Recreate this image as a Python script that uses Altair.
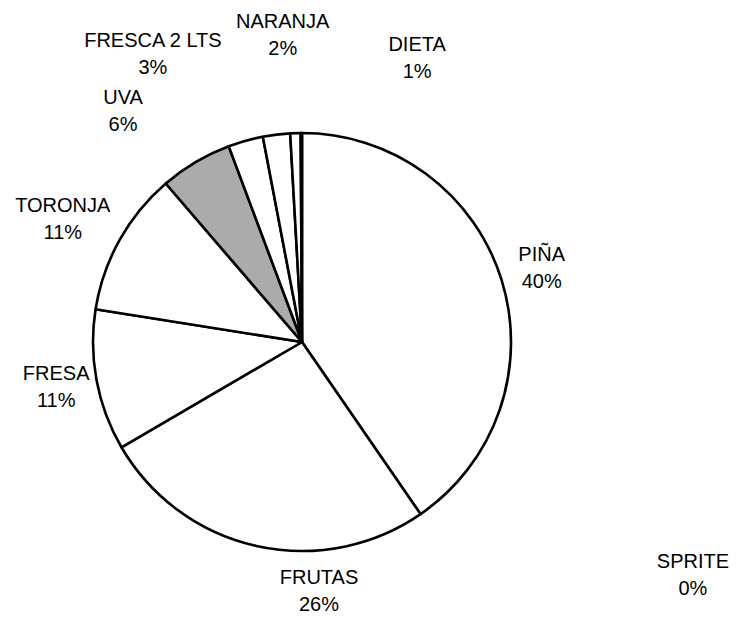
import altair as alt
import pandas as pd

# --- data ---
SLICES = ["PIÑA", "FRUTAS", "FRESA", "TORONJA", "UVA",
          "FRESCA 2 LTS", "NARANJA", "DIETA", "SPRITE"]
SHARES = [40.4, 26.2, 10.9, 11.2, 5.6, 2.7, 2.1, 0.8, 0.1]

# --- label layout (angle in degrees clockwise from north, radius as multiple of pie radius) ---
LABEL_ANGLE = [72.9, 176.1, 259.6, 297.2, 322.2, 332.6, 356.4, 22.1, 120.9]
LABEL_RADIUS = [1.20, 1.196, 1.196, 1.287, 1.397, 1.55, 1.469, 1.464, 2.18]

# --- style ---
FILLS = ["#ffffff", "#ffffff", "#ffffff", "#ffffff", "#ababab",
         "#ffffff", "#ffffff", "#ffffff", "#ffffff"]
PIE_R = 209
LINE_H = 27

df = pd.DataFrame({
    "idx": list(range(len(SLICES))),
    "name": SLICES,
    "share": SHARES,
})
df["label"] = [f"{n}\n{round(v):d}%" for n, v in zip(SLICES, SHARES)]
df["ang"] = LABEL_ANGLE
df["rad"] = LABEL_RADIUS

pie = alt.Chart(df).mark_arc(
    outerRadius=PIE_R, stroke="black", strokeWidth=2.6, strokeJoin="round"
).encode(
    theta=alt.Theta("share:Q", stack=True, scale=alt.Scale(domain=[0, 100])),
    order=alt.Order("idx:Q"),
    color=alt.Color("name:N", scale=alt.Scale(domain=SLICES, range=FILLS), legend=None),
)

labels = alt.Chart(df).mark_text(
    font="Liberation Sans", fontSize=20, lineBreak="\n", lineHeight=LINE_H,
    align="center", baseline="middle", color="black", dy=-LINE_H / 2
).encode(
    theta=alt.Theta("ang:Q", stack=False, scale=alt.Scale(domain=[0, 360])),
    radius=alt.Radius("rad:Q", scale=alt.Scale(type="linear", domain=[0, 1], range=[0, PIE_R], zero=True)),
    text="label:N",
)

chart = alt.layer(pie, labels).resolve_scale(
    theta="independent", radius="independent"
).properties(
    width=500, height=500,
    autosize=alt.AutoSizeParams(type="none"),
    padding={"left": 44, "top": 84, "right": 179, "bottom": 24},
).configure_view(stroke=None).configure(background="white")

chart.save("out.html", embed_options={"renderer": "svg", "actions": False})
